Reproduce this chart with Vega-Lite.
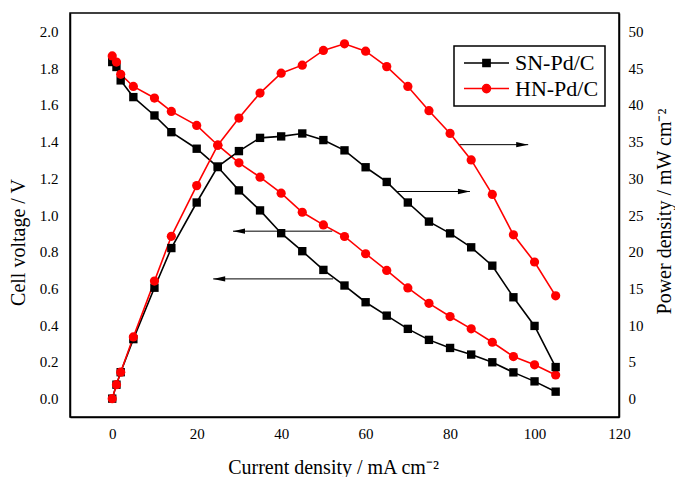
{
  "$schema": "https://vega.github.io/schema/vega-lite/v6.json",
  "width": 549,
  "height": 404,
  "autosize": {"type": "none"},
  "padding": {"left": 70, "top": 13, "right": 56, "bottom": 60},
  "background": "white",
  "config": {
    "view": {"stroke": "black", "strokeWidth": 1.5},
    "font": "Liberation Serif",
    "axis": {
      "domainColor": "black", "domainWidth": 1.5,
      "tickColor": "black", "tickWidth": 1.5, "tickSize": 0,
      "labelColor": "black", "labelFont": "Liberation Serif", "labelFontSize": 15,
      "titleFont": "Liberation Serif", "titleFontSize": 20, "titleFontWeight": "normal", "titleColor": "black",
      "grid": false, "labelOverlap": false, "labelFlush": false
    },
    "legend": {
      "labelFont": "Liberation Serif", "labelFontSize": 22, "labelColor": "black",
      "strokeColor": "black", "strokeWidth": 1.5, "fillColor": "white",
      "padding": 6, "labelOffset": 5, "symbolOffset": 3, "rowPadding": 3.6, "clipHeight": 22,
      "symbolSize": 2025, "symbolStrokeWidth": 1.5, "symbolOpacity": 1
    }
  },
  "datasets": {
    "curves": [
      {"current": 0, "series": "SN-Pd/C", "voltage": 1.833, "power": 0},
      {"current": 1, "series": "SN-Pd/C", "voltage": 1.806, "power": 1.9},
      {"current": 2, "series": "SN-Pd/C", "voltage": 1.733, "power": 3.6},
      {"current": 5, "series": "SN-Pd/C", "voltage": 1.642, "power": 8.1},
      {"current": 10, "series": "SN-Pd/C", "voltage": 1.542, "power": 15.1},
      {"current": 14, "series": "SN-Pd/C", "voltage": 1.451, "power": 20.5},
      {"current": 20, "series": "SN-Pd/C", "voltage": 1.361, "power": 26.7},
      {"current": 25, "series": "SN-Pd/C", "voltage": 1.261, "power": 31.6},
      {"current": 30, "series": "SN-Pd/C", "voltage": 1.134, "power": 33.7},
      {"current": 35, "series": "SN-Pd/C", "voltage": 1.025, "power": 35.5},
      {"current": 40, "series": "SN-Pd/C", "voltage": 0.901, "power": 35.7},
      {"current": 45, "series": "SN-Pd/C", "voltage": 0.803, "power": 36.1},
      {"current": 50, "series": "SN-Pd/C", "voltage": 0.701, "power": 35.2},
      {"current": 55, "series": "SN-Pd/C", "voltage": 0.616, "power": 33.8},
      {"current": 60, "series": "SN-Pd/C", "voltage": 0.525, "power": 31.5},
      {"current": 65, "series": "SN-Pd/C", "voltage": 0.452, "power": 29.5},
      {"current": 70, "series": "SN-Pd/C", "voltage": 0.380, "power": 26.7},
      {"current": 75, "series": "SN-Pd/C", "voltage": 0.320, "power": 24.1},
      {"current": 80, "series": "SN-Pd/C", "voltage": 0.276, "power": 22.5},
      {"current": 85, "series": "SN-Pd/C", "voltage": 0.240, "power": 20.6},
      {"current": 90, "series": "SN-Pd/C", "voltage": 0.198, "power": 18.1},
      {"current": 95, "series": "SN-Pd/C", "voltage": 0.143, "power": 13.8},
      {"current": 100, "series": "SN-Pd/C", "voltage": 0.094, "power": 9.9},
      {"current": 105, "series": "SN-Pd/C", "voltage": 0.038, "power": 4.3},
      {"current": 0, "series": "HN-Pd/C", "voltage": 1.866, "power": 0},
      {"current": 1, "series": "HN-Pd/C", "voltage": 1.833, "power": 1.9},
      {"current": 2, "series": "HN-Pd/C", "voltage": 1.766, "power": 3.6},
      {"current": 5, "series": "HN-Pd/C", "voltage": 1.700, "power": 8.4},
      {"current": 10, "series": "HN-Pd/C", "voltage": 1.637, "power": 16.0},
      {"current": 14, "series": "HN-Pd/C", "voltage": 1.564, "power": 22.1},
      {"current": 20, "series": "HN-Pd/C", "voltage": 1.488, "power": 29.0},
      {"current": 25, "series": "HN-Pd/C", "voltage": 1.380, "power": 34.5},
      {"current": 30, "series": "HN-Pd/C", "voltage": 1.284, "power": 38.2},
      {"current": 35, "series": "HN-Pd/C", "voltage": 1.206, "power": 41.6},
      {"current": 40, "series": "HN-Pd/C", "voltage": 1.119, "power": 44.3},
      {"current": 45, "series": "HN-Pd/C", "voltage": 1.015, "power": 45.4},
      {"current": 50, "series": "HN-Pd/C", "voltage": 0.946, "power": 47.4},
      {"current": 55, "series": "HN-Pd/C", "voltage": 0.883, "power": 48.3},
      {"current": 60, "series": "HN-Pd/C", "voltage": 0.789, "power": 47.3},
      {"current": 65, "series": "HN-Pd/C", "voltage": 0.698, "power": 45.2},
      {"current": 70, "series": "HN-Pd/C", "voltage": 0.603, "power": 42.5},
      {"current": 75, "series": "HN-Pd/C", "voltage": 0.519, "power": 39.2},
      {"current": 80, "series": "HN-Pd/C", "voltage": 0.447, "power": 36.1},
      {"current": 85, "series": "HN-Pd/C", "voltage": 0.380, "power": 32.5},
      {"current": 90, "series": "HN-Pd/C", "voltage": 0.307, "power": 27.8},
      {"current": 95, "series": "HN-Pd/C", "voltage": 0.229, "power": 22.3},
      {"current": 100, "series": "HN-Pd/C", "voltage": 0.184, "power": 18.6},
      {"current": 105, "series": "HN-Pd/C", "voltage": 0.129, "power": 14.0}
    ],
    "arrows": [
      {"current": 98.5, "current2": 81.9, "voltage": 1.383, "dir": "right"},
      {"current": 84.7, "current2": 67.5, "voltage": 1.128, "dir": "right"},
      {"current": 28.6, "current2": 52.1, "voltage": 0.912, "dir": "left"},
      {"current": 23.9, "current2": 52.3, "voltage": 0.652, "dir": "left"}
    ]
  },
  "layer": [
    {
      "layer": [
        {
          "data": {"name": "curves"},
          "mark": {"type": "line", "strokeWidth": 1.6},
          "encoding": {
            "x": {
              "field": "current", "type": "quantitative",
              "scale": {"domain": [-10, 120], "nice": false, "zero": false},
              "axis": {
                "title": "Current density / mA cm⁻²",
                "values": [-10, 0, 10, 20, 30, 40, 50, 60, 70, 80, 90, 100, 110, 120],
                "labelExpr": "datum.value % 20 === 0 ? datum.label : ''",
                "labelPadding": 9,
                "encode": {"ticks": {"y2": {"condition": {"test": "datum.value % 20 === 0", "value": -7}, "value": -4}}},
                "titleX": 263, "titleY": 56, "titleBaseline": "alphabetic", "titleAlign": "center"
              }
            },
            "y": {
              "field": "voltage", "type": "quantitative",
              "scale": {"domain": [-0.1, 2.1], "nice": false, "zero": false},
              "axis": {
                "orient": "left",
                "title": "Cell voltage / V",
                "values": [0, 0.1, 0.2, 0.3, 0.4, 0.5, 0.6, 0.7, 0.8, 0.9, 1.0, 1.1, 1.2, 1.3, 1.4, 1.5, 1.6, 1.7, 1.8, 1.9, 2.0],
                "labelExpr": "round(datum.value * 10) % 2 === 0 ? format(datum.value, '.1f') : ''",
                "labelAlign": "right",
                "labelPadding": 12,
                "encode": {"ticks": {"x2": {"condition": {"test": "round(datum.value * 10) % 2 === 0", "value": 7}, "value": 4}}},
                "titleAngle": -90, "titleX": -52, "titleY": 229, "titleBaseline": "middle", "titleAlign": "center"
              }
            },
            "stroke": {
              "field": "series", "type": "nominal",
              "scale": {"domain": ["SN-Pd/C", "HN-Pd/C"], "range": ["#000000", "#ff0000"]},
              "legend": {"title": null, "orient": "none", "legendX": 384, "legendY": 33, "symbolSize": 2025, "symbolOpacity": 1, "clipHeight": 22}
            }
          }
        },
        {
          "data": {"name": "curves"},
          "mark": {"type": "point", "filled": true, "opacity": 0, "size": 2025},
          "encoding": {
            "x": {"field": "current", "type": "quantitative"},
            "y": {"field": "voltage", "type": "quantitative"},
            "stroke": {"field": "series", "type": "nominal"},
            "fill": {
              "field": "series", "type": "nominal",
              "scale": {"domain": ["SN-Pd/C", "HN-Pd/C"], "range": ["#000000", "#ff0000"]},
              "legend": {"title": null, "orient": "none", "legendX": 384, "legendY": 33, "symbolSize": 2025, "symbolOpacity": 1, "clipHeight": 22}
            },
            "shape": {
              "field": "series", "type": "nominal",
              "scale": {"domain": ["SN-Pd/C", "HN-Pd/C"], "range": ["M-1,0H1M-0.16,-0.16H0.16V0.16H-0.16Z", "M-1,0H1M-0.18,0A0.18,0.18,0,1,1,0.18,0A0.18,0.18,0,1,1,-0.18,0Z"]},
              "legend": {"title": null, "orient": "none", "legendX": 384, "legendY": 33, "symbolSize": 2025, "symbolOpacity": 1, "clipHeight": 22}
            }
          }
        },
        {
          "data": {"name": "curves"},
          "transform": [{"filter": "datum.series === 'SN-Pd/C'"}],
          "mark": {"type": "point", "filled": true, "opacity": 1, "shape": "square", "size": 70, "color": "#000000"},
          "encoding": {
            "x": {"field": "current", "type": "quantitative"},
            "y": {"field": "voltage", "type": "quantitative"}
          }
        },
        {
          "data": {"name": "curves"},
          "transform": [{"filter": "datum.series === 'HN-Pd/C'"}],
          "mark": {"type": "point", "filled": true, "opacity": 1, "shape": "circle", "size": 85, "color": "#ff0000"},
          "encoding": {
            "x": {"field": "current", "type": "quantitative"},
            "y": {"field": "voltage", "type": "quantitative"}
          }
        },
        {
          "data": {"name": "arrows"},
          "mark": {"type": "rule", "color": "black", "strokeWidth": 1},
          "encoding": {
            "x": {"field": "current", "type": "quantitative"},
            "x2": {"field": "current2"},
            "y": {"field": "voltage", "type": "quantitative"}
          }
        },
        {
          "data": {"name": "arrows"},
          "transform": [{"filter": "datum.dir === 'right'"}],
          "mark": {"type": "point", "filled": true, "color": "black", "opacity": 1, "size": 576, "shape": "M0,0L-1,-0.22L-1,0.22Z"},
          "encoding": {
            "x": {"field": "current", "type": "quantitative"},
            "y": {"field": "voltage", "type": "quantitative"}
          }
        },
        {
          "data": {"name": "arrows"},
          "transform": [{"filter": "datum.dir === 'left'"}],
          "mark": {"type": "point", "filled": true, "color": "black", "opacity": 1, "size": 576, "shape": "M0,0L1,-0.22L1,0.22Z"},
          "encoding": {
            "x": {"field": "current", "type": "quantitative"},
            "y": {"field": "voltage", "type": "quantitative"}
          }
        }
      ]
    },
    {
      "layer": [
        {
          "data": {"name": "curves"},
          "mark": {"type": "line", "strokeWidth": 1.6},
          "encoding": {
            "x": {"field": "current", "type": "quantitative"},
            "y": {
              "field": "power", "type": "quantitative",
              "scale": {"domain": [-2.5, 52.5], "nice": false, "zero": false},
              "axis": {
                "orient": "right",
                "title": "Power density / mW cm⁻²",
                "values": [0, 2.5, 5, 7.5, 10, 12.5, 15, 17.5, 20, 22.5, 25, 27.5, 30, 32.5, 35, 37.5, 40, 42.5, 45, 47.5, 50],
                "labelExpr": "datum.value % 5 === 0 ? format(datum.value, 'd') : ''",
                "labelAlign": "left",
                "labelPadding": 9,
                "encode": {"ticks": {"x2": {"condition": {"test": "datum.value % 5 === 0", "value": -7}, "value": -4}}},
                "titleAngle": -90, "titleX": 45, "titleY": 198, "titleBaseline": "middle", "titleAlign": "center"
              }
            },
            "stroke": {"field": "series", "type": "nominal"}
          }
        },
        {
          "data": {"name": "curves"},
          "transform": [{"filter": "datum.series === 'SN-Pd/C'"}],
          "mark": {"type": "point", "filled": true, "opacity": 1, "shape": "square", "size": 70, "color": "#000000"},
          "encoding": {
            "x": {"field": "current", "type": "quantitative"},
            "y": {"field": "power", "type": "quantitative"}
          }
        },
        {
          "data": {"name": "curves"},
          "transform": [{"filter": "datum.series === 'HN-Pd/C'"}],
          "mark": {"type": "point", "filled": true, "opacity": 1, "shape": "circle", "size": 85, "color": "#ff0000"},
          "encoding": {
            "x": {"field": "current", "type": "quantitative"},
            "y": {"field": "power", "type": "quantitative"}
          }
        }
      ]
    }
  ],
  "resolve": {"scale": {"y": "independent"}}
}
